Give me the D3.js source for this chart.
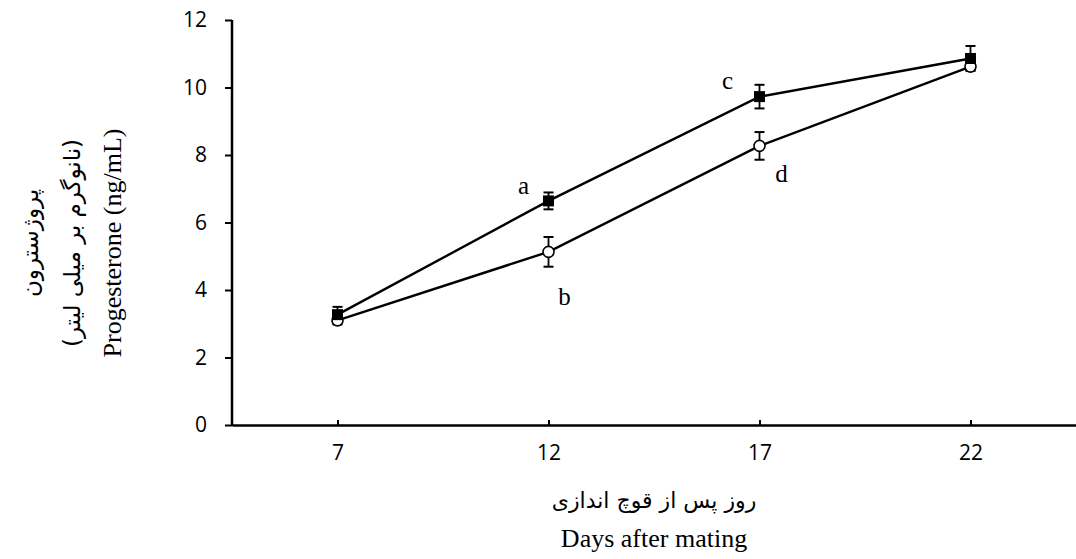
<!DOCTYPE html>
<html>
<head>
<meta charset="utf-8">
<script src="https://cdn.jsdelivr.net/npm/d3@7"></script>
<style>
  body { margin: 0; background: white; }
  svg { display: block; }
  .tick text { font-family: "Open Sans", sans-serif; font-size: 21px; fill: black; }
  .serif { font-family: "Liberation Serif", "DejaVu Serif", serif; fill: black; }
  .fa { font-family: "DejaVu Sans", sans-serif; fill: black; }
</style>
</head>
<body>
<svg width="1076" height="559"></svg>
<script>
// DATA

var days = ["7", "12", "17", "22"];
var yTicks = [0, 2, 4, 6, 8, 10, 12];

var filledMean = [3.27, 6.64, 9.73, 10.86];
var filledErr  = [0.23, 0.25, 0.35, 0.37];

var openMean = [3.1, 5.13, 8.27, 10.62];
var openErr  = [0.12, 0.44, 0.41, 0.1];

var letters = ["a", "b", "c", "d"];
var letterDay = ["12", "12", "17", "17"];
var letterVal = [6.64, 5.13, 9.73, 8.27];

// SETUP

var svg = d3.select("svg"),
    margin = { top: 20, right: 0, bottom: 134, left: 232 },
    width = 1076 - margin.left - margin.right,
    height = 559 - margin.top - margin.bottom;

var x = d3.scalePoint().domain(days).range([margin.left, margin.left + width]).padding(0.5),
    y = d3.scaleLinear().domain([0, 12]).range([margin.top + height, margin.top]);

// axes
var yAxis = svg.append("g")
  .attr("transform", "translate(" + margin.left + ",0)")
  .call(d3.axisLeft(y).tickValues(yTicks).tickSize(7).tickPadding(18));
yAxis.select(".domain").attr("stroke-width", 2.5).attr("d", "M0," + y(12) + "V" + (y(0) + 1));
yAxis.selectAll(".tick line").attr("stroke-width", 2);

var xAxis = svg.append("g")
  .attr("transform", "translate(0," + y(0) + ")")
  .call(d3.axisBottom(x).tickSizeInner(-5).tickSizeOuter(0).tickPadding(20));
xAxis.select(".domain").attr("stroke-width", 2.5);
xAxis.selectAll(".tick line").attr("stroke-width", 2);

// axis titles
svg.append("text").attr("class", "fa")
  .attr("x", 654).attr("y", 508)
  .attr("text-anchor", "middle")
  .style("font-size", "22px")
  .attr("direction", "rtl")
  .text("روز پس از قوچ اندازی");

svg.append("text").attr("class", "serif")
  .attr("x", 654).attr("y", 547)
  .attr("text-anchor", "middle")
  .style("font-size", "26px")
  .text("Days after mating");

var yTitle = svg.append("g").attr("transform", "translate(0,243) rotate(-90)");
yTitle.append("text").attr("class", "fa")
  .attr("x", 0).attr("y", 38)
  .attr("text-anchor", "middle")
  .style("font-size", "23px")
  .attr("direction", "rtl")
  .text("پروژسترون");
yTitle.append("text").attr("class", "fa")
  .attr("x", 0).attr("y", 80)
  .attr("text-anchor", "middle")
  .style("font-size", "23px")
  .attr("direction", "rtl")
  .text("(نانوگرم بر میلی لیتر)");
yTitle.append("text").attr("class", "serif")
  .attr("x", 0).attr("y", 121)
  .attr("text-anchor", "middle")
  .style("font-size", "26px")
  .text("Progesterone (ng/mL)");

// DRAWING

var line = d3.line()
  .x(function (d, i) { return x(days[i]); })
  .y(function (d) { return y(d); });

function drawSeries(means, errs) {
  svg.append("path")
    .datum(means)
    .attr("fill", "none")
    .attr("stroke", "black")
    .attr("stroke-width", 2.4)
    .attr("d", line);

  var eb = svg.append("g").selectAll("g")
    .data(means)
    .enter().append("g");

  eb.append("line")
    .attr("x1", function (d, i) { return x(days[i]); })
    .attr("x2", function (d, i) { return x(days[i]); })
    .attr("y1", function (d, i) { return y(d + errs[i]); })
    .attr("y2", function (d, i) { return y(d - errs[i]); })
    .attr("stroke", "black").attr("stroke-width", 1.8);

  [1, -1].forEach(function (s) {
    eb.append("line")
      .attr("x1", function (d, i) { return x(days[i]) - 5; })
      .attr("x2", function (d, i) { return x(days[i]) + 5; })
      .attr("y1", function (d, i) { return y(d + s * errs[i]); })
      .attr("y2", function (d, i) { return y(d + s * errs[i]); })
      .attr("stroke", "black").attr("stroke-width", 2);
  });
}

drawSeries(openMean, openErr);
drawSeries(filledMean, filledErr);

svg.append("g").selectAll("circle")
  .data(openMean)
  .enter().append("circle")
  .attr("cx", function (d, i) { return x(days[i]); })
  .attr("cy", function (d) { return y(d); })
  .attr("r", 5.5)
  .attr("fill", "white")
  .attr("stroke", "black")
  .attr("stroke-width", 1.6);

svg.append("g").selectAll("rect")
  .data(filledMean)
  .enter().append("rect")
  .attr("x", function (d, i) { return x(days[i]) - 5.5; })
  .attr("y", function (d) { return y(d) - 5.5; })
  .attr("width", 11)
  .attr("height", 11)
  .attr("fill", "black");

// significance letters: a/c above-left of squares, b/d below-right of circles
var letterDx = [-25, 16, -32, 22],
    letterDy = [-7, 53, -8, 36];

svg.append("g").selectAll("text")
  .data(letters)
  .enter().append("text")
  .attr("class", "serif")
  .attr("x", function (d, i) { return x(letterDay[i]) + letterDx[i]; })
  .attr("y", function (d, i) { return y(letterVal[i]) + letterDy[i]; })
  .attr("text-anchor", "middle")
  .style("font-size", "25px")
  .text(function (d) { return d; });
</script>
</body>
</html>
